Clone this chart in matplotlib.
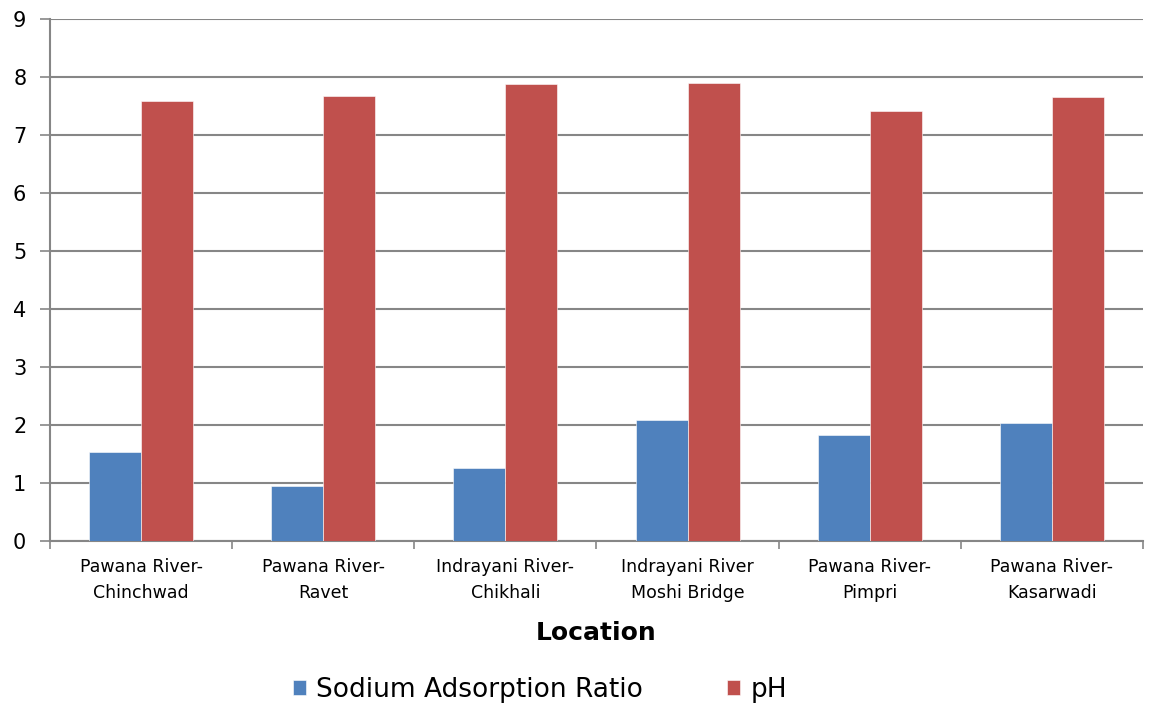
import numpy as np
import matplotlib.pyplot as plt

locations = ['Pawana River-\nChinchwad', 'Pawana River-\nRavet', 'Indrayani River-\nChikhali',
             'Indrayani River\nMoshi Bridge', 'Pawana River-\nPimpri', 'Pawana River-\nKasarwadi']
sar = [1.54, 0.95, 1.26, 2.09, 1.83, 2.04]
ph = [7.59, 7.67, 7.88, 7.90, 7.41, 7.65]
series_names = ['Sodium Adsorption Ratio', 'pH']
colors = ['#4F81BD', '#C0504D']

plt.rcParams['font.family'] = 'DejaVu Sans'

fig = plt.figure(figsize=(11.59, 7.08), dpi=100)
ax = fig.add_axes([0.0431, 0.2359, 0.9431, 0.7373])

x = np.arange(len(locations))
barWidth = 1 / 3.5
for i, (vals, name) in enumerate(zip([sar, ph], series_names)):
    ax.bar(x + (i - 0.5) * barWidth, vals, width=barWidth, color=colors[i],
           edgecolor='white', linewidth=0.4, label=name, zorder=3)

grid_col = '#868686'
ax.set_xlim(-0.5, len(locations) - 0.5)
ax.set_ylim(0, 9)
ax.set_yticks(range(0, 10))
ax.yaxis.grid(True, color=grid_col, linewidth=1.5, zorder=0)
ax.tick_params(axis='y', labelsize=15, length=7, width=1.2, color=grid_col, pad=10)

ax.set_xticks(x)
ax.set_xticklabels(locations, fontsize=12.5, linespacing=1.6)
ax.set_xticks(np.arange(-0.5, len(locations)), minor=True)
ax.tick_params(axis='x', which='major', length=0, pad=12)
ax.tick_params(axis='x', which='minor', length=6, width=1.2, color=grid_col)

for side in ['top', 'right']:
    ax.spines[side].set_visible(False)
for side in ['left', 'bottom']:
    ax.spines[side].set_color(grid_col)
    ax.spines[side].set_linewidth(1.5)

ax.set_xlabel('Location', fontsize=18, fontweight='bold', labelpad=14)

fig.legend(loc='center', bbox_to_anchor=(0.466, 0.026), ncol=2, frameon=False,
           fontsize=19, handlelength=0.48, handleheight=0.48, handletextpad=0.4,
           columnspacing=3.2)

fig.savefig('out.png', dpi=100)
